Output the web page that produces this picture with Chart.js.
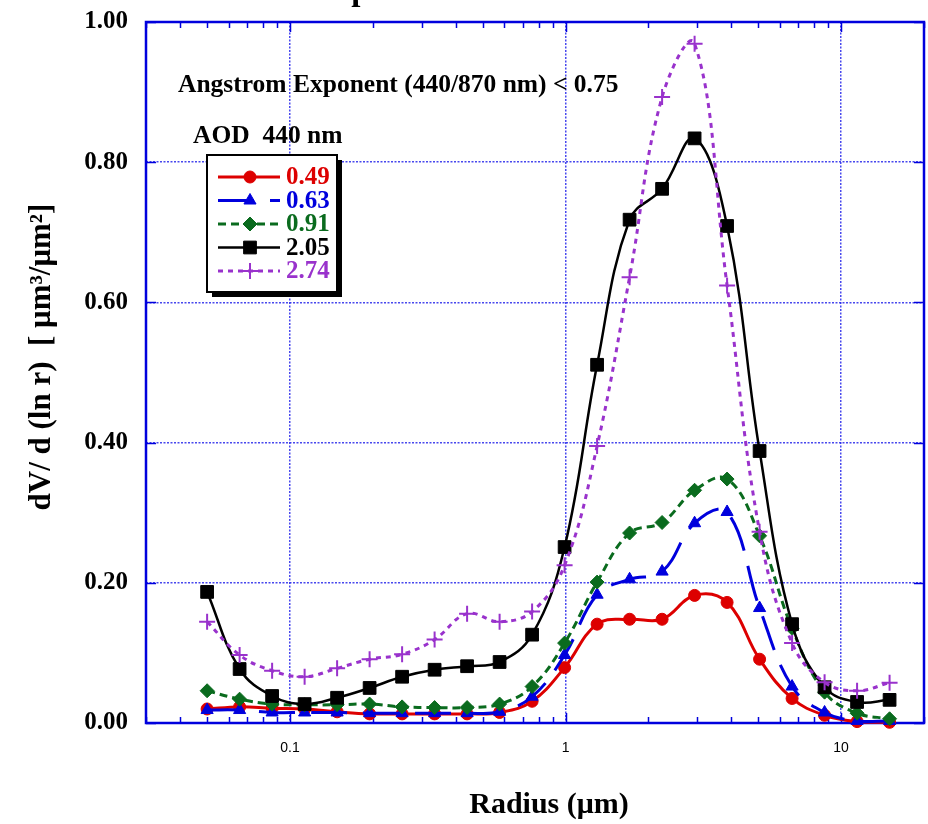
<!DOCTYPE html>
<html><head><meta charset="utf-8">
<script src="https://cdn.jsdelivr.net/npm/chart.js@4/dist/chart.umd.min.js"></script>
<style>html,body{margin:0;padding:0;background:#fff;}#wrap{width:928px;height:824px;position:relative;}</style>
</head><body><div id="wrap"><canvas id="c" width="928" height="824"></canvas></div>
<script>
// ---- data ----
const radius = [0.05, 0.065604, 0.086077, 0.112939, 0.148184, 0.194429, 0.255105, 0.334716, 0.439173, 0.576227, 0.756052, 0.991996, 1.301571, 1.707757, 2.240702, 2.939966, 3.857452, 5.06126, 6.640745, 8.713145, 11.432287, 15.0];
const aod049 = [0.020, 0.023, 0.021, 0.020, 0.016, 0.013, 0.013, 0.013, 0.013, 0.015, 0.031, 0.079, 0.141, 0.148, 0.148, 0.182, 0.172, 0.091, 0.035, 0.011, 0.002, 0.001];
const aod063 = [0.0185, 0.0185, 0.015, 0.015, 0.015, 0.014, 0.014, 0.014, 0.014, 0.016, 0.0375, 0.097, 0.183, 0.205, 0.216, 0.285, 0.301, 0.164, 0.052, 0.015, 0.003, 0.003];
const aod091 = [0.046, 0.034, 0.027, 0.026, 0.026, 0.027, 0.023, 0.022, 0.022, 0.027, 0.052, 0.114, 0.201, 0.271, 0.286, 0.332, 0.348, 0.267, 0.135, 0.044, 0.014, 0.006];
const aod205 = [0.187, 0.077, 0.0385, 0.027, 0.036, 0.050, 0.066, 0.076, 0.081, 0.087, 0.126, 0.251, 0.511, 0.718, 0.762, 0.834, 0.709, 0.388, 0.141, 0.051, 0.030, 0.033];
const aod274 = [0.1445, 0.097, 0.0746, 0.066, 0.078, 0.091, 0.098, 0.119, 0.156, 0.1445, 0.159, 0.225, 0.395, 0.636, 0.893, 0.969, 0.624, 0.273, 0.114, 0.058, 0.046, 0.0575];
const seriesValues = [aod049, aod063, aod091, aod205, aod274];
const legendLabels = ['0.49', '0.63', '0.91', '2.05', '2.74'];
const xTickValues = [0.1, 1, 10];
const yTickValues = [0, 0.2, 0.4, 0.6, 0.8, 1.0];
const chartTitle = 'Spheroid Model Retrievals';
const note1 = 'Angstrom Exponent (440/870 nm) < 0.75';
const note2 = 'AOD  440 nm';
const xTitle = 'Radius (\u03bcm)';
const yTitle = 'dV/ d (ln r)  [ \u03bcm\u00b3/\u03bcm\u00b2]';

// ---- styles ----
const styles = [
  {color:'#dd0000', dash:[], width:3, point:'circle', r:6, pbw:1},
  {color:'#0000dd', dash:[36,16], width:3, point:'triangle', r:7, pbw:1},
  {color:'#0a6b1e', dash:[8,5], width:3, point:'rectRot', r:7, pbw:1},
  {color:'#000000', dash:[], width:2.5, point:'rect', r:9, pbw:1},
  {color:'#9932cc', dash:[5,5], width:3, point:'cross', r:8, pbw:2}
];
const SERIF = '"Liberation Serif", "Times New Roman", serif';
const SANS = '"Liberation Sans", Arial, sans-serif';
const FRAME = '#0000dd';

const datasets = seriesValues.map((vals, i) => ({
  label: legendLabels[i],
  data: radius.map((r, j) => ({x: r, y: vals[j]})),
  borderColor: styles[i].color,
  backgroundColor: styles[i].color,
  borderWidth: styles[i].width,
  borderDash: styles[i].dash,
  pointStyle: styles[i].point,
  pointRadius: styles[i].r,
  pointBorderWidth: styles[i].pbw,
  pointBackgroundColor: styles[i].color,
  pointBorderColor: styles[i].color,
  tension: 0.4,
  clip: false,
  order: 5 - i
}));

function drawMarker(ctx, st, x, y) {
  ctx.save();
  ctx.setLineDash([]);
  ctx.fillStyle = st.color; ctx.strokeStyle = st.color; ctx.lineWidth = st.pbw;
  if (Chart.helpers && Chart.helpers.drawPoint) {
    Chart.helpers.drawPoint(ctx, {pointStyle: st.point, radius: st.r, borderWidth: st.pbw, rotation: 0}, x, y);
  }
  ctx.restore();
}

function zeroPad(s) { s.paddingTop = 0; s.paddingBottom = 0; s.paddingLeft = 0; s.paddingRight = 0; }

const decor = {
  id: 'decor',
  beforeDraw(chart) {
    const ctx = chart.ctx;
    ctx.save(); ctx.fillStyle = '#fff'; ctx.fillRect(0, 0, chart.width, chart.height); ctx.restore();
  },
  beforeDatasetsDraw(chart) {
    const {ctx, chartArea: a, scales: {x, y}} = chart;
    ctx.save();
    ctx.strokeStyle = FRAME;
    ctx.lineWidth = 2.5;
    ctx.strokeRect(a.left, a.top, a.right - a.left, a.bottom - a.top);
    ctx.lineWidth = 1.5;
    const line = (x1, y1, x2, y2) => { ctx.beginPath(); ctx.moveTo(x1, y1); ctx.lineTo(x2, y2); ctx.stroke(); };
    for (let e = -2; e <= 1; e++) {
      for (let m = 1; m <= 9; m++) {
        const v = m * Math.pow(10, e);
        if (v < x.min * 0.999 || v > x.max * 1.001) continue;
        const px = Math.round(x.getPixelForValue(v)) + 0.5;
        const len = (m === 1) ? 10 : 6;
        line(px, a.bottom, px, a.bottom - len);
        line(px, a.top, px, a.top + len);
      }
    }
    yTickValues.forEach(v => {
      const py = Math.round(y.getPixelForValue(v)) + 0.5;
      line(a.left, py, a.left + 10, py);
      line(a.right, py, a.right - 10, py);
    });
    ctx.restore();
  },
  afterDraw(chart) {
    const ctx = chart.ctx;
    ctx.save();
    // title (cut off at top)
    ctx.fillStyle = '#000';
    ctx.font = 'bold 33px ' + SERIF;
    ctx.textAlign = 'left'; ctx.textBaseline = 'alphabetic';
    ctx.fillText(chartTitle, 333, 0);
    // notes
    ctx.font = 'bold 25.5px ' + SERIF;
    ctx.fillText(note1, 178, 92);
    ctx.fillText(note2, 193, 143);
    // legend box
    const bx = 207, by = 155, bw = 130, bh = 137;
    ctx.fillStyle = '#000';
    ctx.fillRect(bx + 5, by + 5, bw, bh);
    ctx.fillStyle = '#fff';
    ctx.fillRect(bx, by, bw, bh);
    ctx.strokeStyle = '#000'; ctx.lineWidth = 2;
    ctx.strokeRect(bx, by, bw, bh);
    legendLabels.forEach((lab, i) => {
      const st = styles[i];
      const ry = 177 + i * 23.5;
      ctx.save();
      ctx.strokeStyle = st.color; ctx.lineWidth = st.width;
      ctx.setLineDash(st.dash);
      ctx.beginPath(); ctx.moveTo(218, ry); ctx.lineTo(280, ry); ctx.stroke();
      ctx.restore();
      drawMarker(ctx, st, 250, ry);
      ctx.fillStyle = st.color;
      ctx.font = 'bold 25px ' + SERIF;
      ctx.textBaseline = 'middle'; ctx.textAlign = 'left';
      ctx.fillText(lab, 286, ry + 1);
    });
    // axis titles
    ctx.fillStyle = '#000';
    ctx.font = 'bold 30px ' + SERIF;
    ctx.textAlign = 'center'; ctx.textBaseline = 'alphabetic';
    ctx.fillText(xTitle, 549, 813);
    ctx.save();
    ctx.font = 'bold 31px ' + SERIF;
    ctx.translate(50, 357);
    ctx.rotate(-Math.PI / 2);
    ctx.fillText(yTitle, 0, 0);
    ctx.restore();
    ctx.restore();
  }
};

new Chart(document.getElementById('c'), {
  type: 'line',
  data: {datasets},
  plugins: [decor],
  options: {
    responsive: false,
    animation: false,
    devicePixelRatio: 1,
    layout: {autoPadding: false, padding: {top: 22, right: 4, left: 0, bottom: 0}},
    plugins: {legend: {display: false}, title: {display: false}, tooltip: {enabled: false}},
    scales: {
      x: {
        type: 'logarithmic', min: 0.03, max: 20,
        afterBuildTicks: s => { s.ticks = xTickValues.map(v => ({value: v})); },
        afterFit: s => { s.height = 101; zeroPad(s); },
        ticks: {
          autoSkip: false, maxRotation: 0, padding: 17, color: '#000',
          font: {family: SANS, size: 14},
          callback: v => String(v)
        },
        grid: {color: 'rgba(40,40,235,0.85)', lineWidth: 1.5, drawTicks: false},
        border: {display: false, dash: [2, 1.5]}
      },
      y: {
        type: 'linear', min: 0, max: 1,
        afterBuildTicks: s => { s.ticks = yTickValues.map(v => ({value: v})); },
        afterFit: s => { s.width = 146; zeroPad(s); },
        ticks: {
          padding: 18, color: '#000',
          font: {family: SERIF, size: 25, weight: 'bold'},
          callback: v => Number(v).toFixed(2)
        },
        grid: {color: 'rgba(40,40,235,0.85)', lineWidth: 1.5, drawTicks: false},
        border: {display: false, dash: [2, 1.5]}
      }
    }
  }
});
</script>
</body></html>
